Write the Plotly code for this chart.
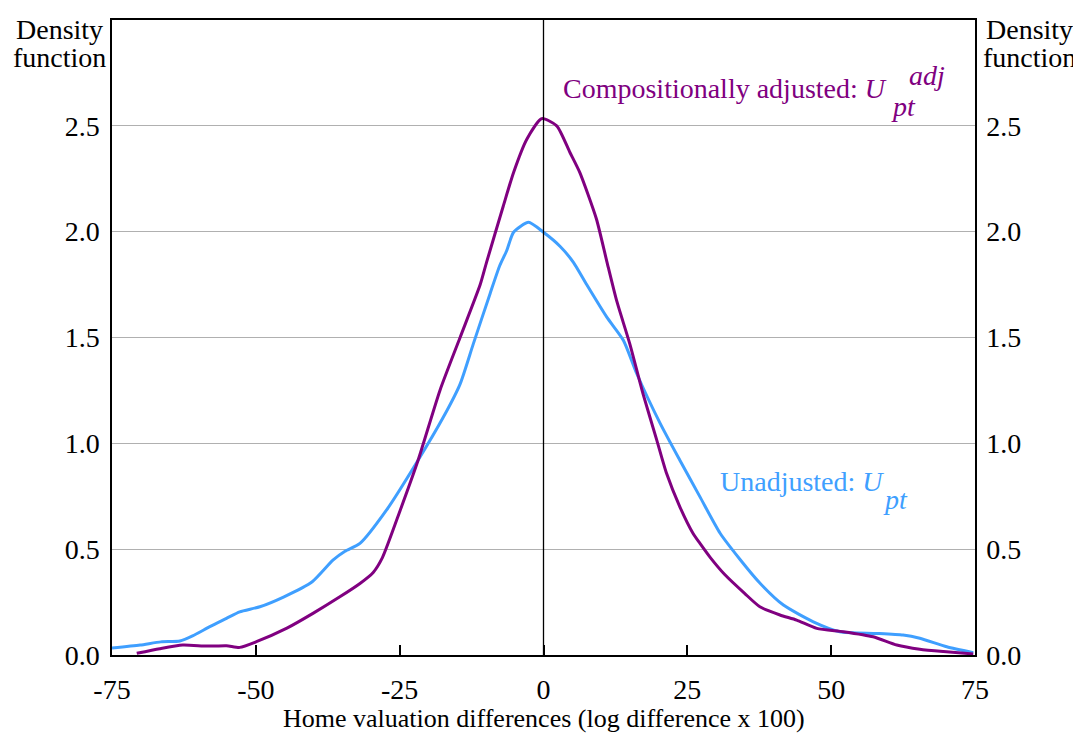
import plotly.graph_objects as go

# Compositionally adjusted density
adj_x = [-70.7, -66.7, -62.7, -58.5, -55.1, -52.8, -49.9, -44.6, -40.0, -35.4, -31.9, -29.6, -28.0, -24.9,
         -21.8, -18.0, -14.5, -11.0, -9.9, -7.0, -5.2, -2.9, -0.3, 2.3, 4.6, 6.3, 9.2, 11.0, 12.7,
         15.0, 17.3, 19.7, 21.4, 23.7, 26.0, 27.2, 29.0, 31.5, 35.0, 37.6, 41.1, 44.0, 47.5, 52.1,
         57.3, 61.4, 65.4, 69.5, 74.7]
adj_y = [0.008, 0.03, 0.047, 0.042, 0.044, 0.036, 0.063, 0.127, 0.198, 0.275, 0.338, 0.39, 0.46, 0.684,
         0.92, 1.25, 1.50, 1.75, 1.855, 2.12, 2.28, 2.437, 2.534, 2.50, 2.374, 2.28, 2.06, 1.86, 1.675,
         1.47, 1.234, 1.014, 0.857, 0.70, 0.574, 0.527, 0.46, 0.38, 0.29, 0.228, 0.189, 0.165, 0.126, 0.11,
         0.086, 0.047, 0.027, 0.016, 0.005]

# Unadjusted density
raw_x = [-75.0, -70.1, -66.5, -63.2, -61.0, -58.0, -55.1, -52.8, -49.3, -45.1, -40.2, -36.6, -34.5, -31.9,
         -27.3, -21.8, -17.4, -14.5, -12.2, -9.3, -7.6, -6.4, -5.2, -2.6, 0.0, 2.9, 5.2, 7.5, 11.0,
         13.9, 16.2, 20.3, 23.7, 27.2, 30.7, 34.2, 37.6, 41.7, 46.9, 51.5, 57.9, 62.5, 65.4, 70.1, 74.7]
raw_y = [0.033, 0.047, 0.062, 0.066, 0.09, 0.134, 0.173, 0.204, 0.228, 0.275, 0.346, 0.448, 0.49, 0.527,
         0.684, 0.92, 1.124, 1.28, 1.47, 1.706, 1.84, 1.91, 1.997, 2.044, 1.997, 1.93, 1.855, 1.75, 1.596,
         1.486, 1.33, 1.093, 0.92, 0.747, 0.575, 0.45, 0.34, 0.236, 0.157, 0.11, 0.102, 0.094, 0.079, 0.039, 0.011]

x_ticks = [-75, -50, -25, 0, 25, 50, 75]
y_ticks = [0.0, 0.5, 1.0, 1.5, 2.0, 2.5]
x_title = "Home valuation differences (log difference x 100)"

PURPLE = "#800080"
BLUE = "#3F9FFF"
FONT = "Liberation Serif, Times New Roman, Times, serif"
FS = 28

fig = go.Figure()
fig.add_trace(go.Scatter(x=raw_x, y=raw_y, mode="lines",
                         line=dict(color=BLUE, width=3, shape="spline", smoothing=0.6),
                         showlegend=False, hoverinfo="skip"))
fig.add_trace(go.Scatter(x=adj_x, y=adj_y, mode="lines",
                         line=dict(color=PURPLE, width=3, shape="spline", smoothing=0.6),
                         showlegend=False, hoverinfo="skip"))
fig.add_trace(go.Scatter(x=adj_x, y=adj_y, yaxis="y2", mode="lines",
                         line=dict(color="rgba(0,0,0,0)", width=0),
                         showlegend=False, hoverinfo="skip"))

fig.add_shape(type="line", x0=0, x1=0, y0=0, y1=3, xref="x", yref="y",
              line=dict(color="black", width=1.3))

fig.update_layout(
    width=1081, height=733,
    margin=dict(l=104, r=114, t=10, b=86),
    paper_bgcolor="white", plot_bgcolor="white",
    font=dict(family=FONT, size=FS, color="black"),
    xaxis=dict(range=[-75, 75], tickvals=x_ticks, ticktext=[str(v) for v in x_ticks],
               ticks="inside", ticklen=10, tickwidth=1.5, tickcolor="black",
               ticklabelstandoff=9,
               showline=True, linecolor="black", linewidth=1.5, mirror=True,
               showgrid=False, zeroline=False),
    yaxis=dict(range=[0, 3], tickvals=y_ticks, tickformat=".1f", ticks="", ticklabelstandoff=5,
               showline=True, linecolor="black", linewidth=1.5,
               showgrid=True, gridcolor="#b0b0b0", gridwidth=1, zeroline=False),
    yaxis2=dict(range=[0, 3], tickvals=y_ticks, tickformat=".1f", ticks="", ticklabelstandoff=4,
                overlaying="y", side="right",
                showline=True, linecolor="black", linewidth=1.5, showgrid=False, zeroline=False),
)

ann = [
    dict(text=x_title, x=0.5, y=-0.0997, xref="paper", yref="paper", xanchor="center", yanchor="middle",
         font=dict(size=26, color="black")),
    dict(text="Density", x=-0.0614, y=0.985, xref="paper", yref="paper", xanchor="center", yanchor="middle"),
    dict(text="function", x=-0.0614, y=0.941, xref="paper", yref="paper", xanchor="center", yanchor="middle"),
    dict(text="Density", x=1.0637, y=0.985, xref="paper", yref="paper", xanchor="center", yanchor="middle"),
    dict(text="function", x=1.0637, y=0.941, xref="paper", yref="paper", xanchor="center", yanchor="middle"),
    dict(text="Compositionally adjusted: <i>U</i>", x=3.0, y=2.675, xanchor="left", yanchor="middle",
         font=dict(size=FS, color=PURPLE)),
    dict(text="<i>adj</i>", x=63.2, y=2.74, xanchor="left", yanchor="middle", font=dict(size=FS, color=PURPLE)),
    dict(text="<i>pt</i>", x=60.0, y=2.59, xanchor="left", yanchor="middle", font=dict(size=FS, color=PURPLE)),
    dict(text="Unadjusted: <i>U</i>", x=30.3, y=0.82, xanchor="left", yanchor="middle",
         font=dict(size=FS, color=BLUE)),
    dict(text="<i>pt</i>", x=58.7, y=0.735, xanchor="left", yanchor="middle", font=dict(size=FS, color=BLUE)),
]
for a in ann:
    a.setdefault("xref", "x")
    a.setdefault("yref", "y")
    a.setdefault("font", dict(size=FS, color="black"))
    a["showarrow"] = False
    fig.add_annotation(**a)

fig.write_html("out.html")
